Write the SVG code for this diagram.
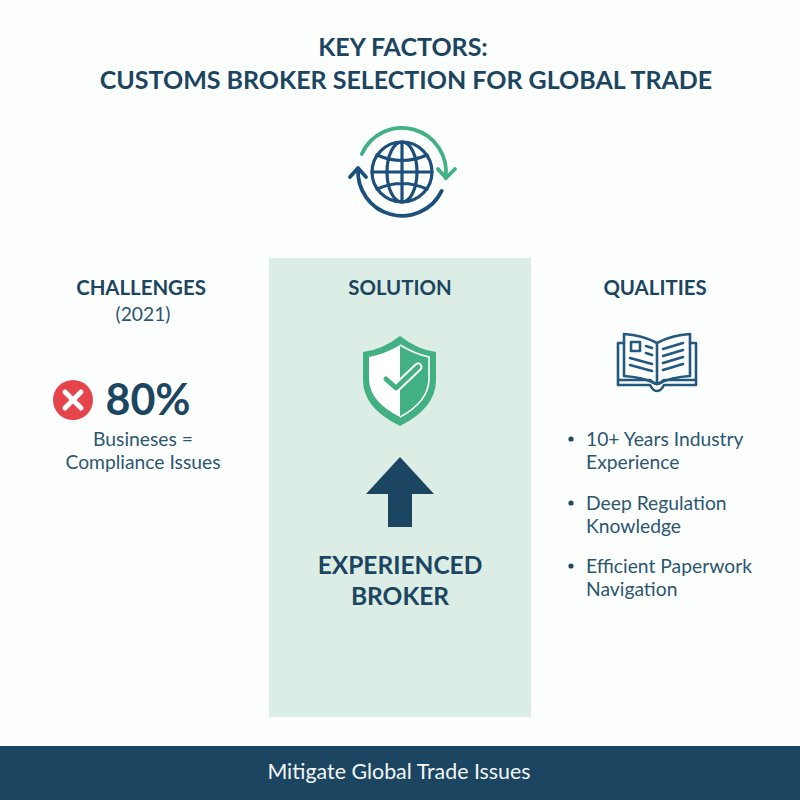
<svg xmlns="http://www.w3.org/2000/svg" width="800" height="800" viewBox="0 0 800 800">
<style>
text{font-family:"Lato","Noto Sans","Liberation Sans",sans-serif;fill:#1f4a66;text-anchor:middle}
.t{font-size:25px;font-weight:700;fill:#1b4560}
.h{font-size:20.4px;font-weight:700;fill:#1b4560}
.b{font-size:19.3px;fill:#2c5670}
.e{font-size:24.5px;font-weight:700;fill:#1b4560}
.l{text-anchor:start}
.ln{fill:none;stroke:#1d4f7c;stroke-width:3.2;stroke-linecap:round;stroke-linejoin:round}
.bk{fill:none;stroke:#23587f;stroke-width:2.6;stroke-linecap:round;stroke-linejoin:round}
.arc{fill:none;stroke-width:3.8;stroke-linecap:round;stroke-linejoin:round}
</style>
<rect width="800" height="800" fill="#fdfefe"/>
<g id="title"><text class="t" x="403" y="56">KEY FACTORS:</text><text class="t" x="406" y="89">CUSTOMS BROKER SELECTION FOR GLOBAL TRADE</text></g>
<g id="globe-icon">
<g class="ln"><circle cx="402" cy="172" r="30"/><ellipse cx="402" cy="172" rx="15" ry="30"/><path d="M402 142V202M372 172H432M377 155Q402 166 427 155M377 189Q402 178 427 189"/></g>
<path class="arc" stroke="#41b083" d="M361.8 154.1A44 44 0 0 1 445.6 178.1M438 169L446 178L455 169"/>
<path class="arc" stroke="#1d4f7c" d="M441.7 190.9A44 44 0 0 1 358.2 168.2M350 177L358 168L366 177"/>
</g>
<g id="challenges">
<text class="h" x="141" y="295">CHALLENGES</text><text class="b" x="143" y="321">(2021)</text>
<circle cx="73" cy="400" r="20" fill="#e5444a"/><path d="M65 392L81 408M81 392L65 408" stroke="#fff" stroke-width="5" stroke-linecap="round"/>
<text x="148" y="415" style="font-size:43px;font-weight:700;fill:#1b4560">80%</text>
<text class="b" x="143" y="446">Busineses =</text><text class="b" x="143" y="469">Compliance Issues</text>
</g>
<g id="solution">
<rect x="269" y="258" width="262" height="459" fill="#dbede5"/>
<text class="h" x="400" y="295">SOLUTION</text>
<path d="M400 336Q418 350 436 352V380Q436 408 400 426Q363 408 363 380V352Q382 350 400 336Z" fill="#41b083"/>
<path d="M400 345Q385 354 369 357V380Q370 402 400 417Z" fill="#fff"/>
<path d="M400 345Q415 354 429 357V380Q428 402 400 417" fill="none" stroke="#fff" stroke-width="1.6"/>
<path d="M386 379L396 388L418 367" fill="none" stroke="#fff" stroke-width="9" stroke-linecap="round" stroke-linejoin="round"/>
<path d="M386 379L396 388L418 367" fill="none" stroke="#41b083" stroke-width="5" stroke-linecap="round" stroke-linejoin="round"/>
<path d="M400 457L434 494H412V527H388V494H366Z" fill="#1b4560"/>
<text class="e" x="400" y="574">EXPERIENCED</text><text class="e" x="400" y="605">BROKER</text>
</g>
<g id="qualities">
<text class="h" x="655" y="295">QUALITIES</text>
<g class="bk">
<path d="M657 343Q642 335 624 334V376Q642 377 657 384Q672 377 690 376V334Q672 335 657 343ZM657 343V384"/>
<path d="M624 343H618V385H650Q653 391 657 391Q661 391 664 385H696V343H690M618 380H650Q654 384 657 384Q660 384 664 380H696"/>
<path d="M631 342H640V351H631ZM646 346L652 348M646 353L652 355M630 358L652 364M630 365L652 371M663 349L683 343M663 356L683 350M663 363L683 357M663 370L683 364"/>
</g>
<g fill="#1f4a66"><circle cx="571" cy="439" r="2.6"/><circle cx="571" cy="503" r="2.6"/><circle cx="571" cy="566" r="2.6"/></g>
<text class="b l" x="586" y="446">10+ Years Industry</text><text class="b l" x="586" y="469">Experience</text>
<text class="b l" x="586" y="510">Deep Regulation</text><text class="b l" x="586" y="533">Knowledge</text>
<text class="b l" x="586" y="573">Efficient Paperwork</text><text class="b l" x="586" y="596">Navigation</text>
</g>
<g id="footer"><rect y="746" width="800" height="54" fill="#1b4560"/><text x="399" y="779" style="font-size:21.4px;fill:#f2f6f8">Mitigate Global Trade Issues</text></g>
</svg>
